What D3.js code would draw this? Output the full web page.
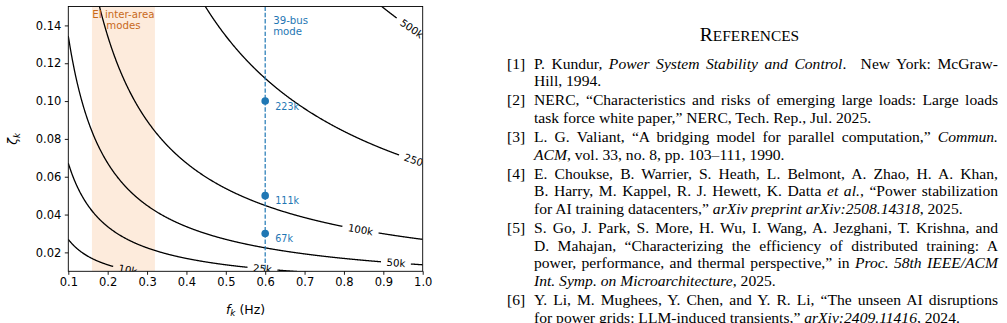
<!DOCTYPE html>
<html><head><meta charset="utf-8">
<script src="https://cdn.jsdelivr.net/npm/d3@7"></script>
<style>
html,body{margin:0;padding:0;background:#fff;}
body{width:1007px;height:323px;overflow:hidden;}
svg{display:block;}
</style>
</head><body>
<svg id="fig" width="1007" height="323"></svg>
<script>
// ---------- data ----------
const xTicks = [0.1,0.2,0.3,0.4,0.5,0.6,0.7,0.8,0.9,1.0];
const yTicks = [0.02,0.04,0.06,0.08,0.10,0.12,0.14];
const xDomain = [0.1, 1.0];
const yDomain = [0.01, 0.15];
const contourLevels = [10000, 25000, 50000, 100000, 250000, 500000];
const contourLabels = ["10k","25k","50k","100k","250k","500k"];
const contourLabelF = [0.251, 0.593, 0.932, 0.842, 0.984, 0.972];
const gainK = 3.72e6;            // level = gainK * zeta * f
const bandF = [0.16, 0.32];
const bandText = ["EI inter-area","modes"];
const modeF = 0.6;
const modeZeta = [0.10, 0.05, 0.03];
const modeLabels = ["223k","111k","67k"];
const modeText = ["39-bus","mode"];

const refTitle = ["R","EFERENCES"];
const refEntries = [
  {label:"[1]", lines:["P. Kundur, _Power System Stability and Control_.\u2002 New York: McGraw-","Hill, 1994."]},
  {label:"[2]", lines:["NERC, \u201cCharacteristics and risks of emerging large loads: Large loads","task force white paper,\u201d NERC, Tech. Rep., Jul. 2025."]},
  {label:"[3]", lines:["L. G. Valiant, \u201cA bridging model for parallel computation,\u201d _Commun._","_ACM_, vol. 33, no. 8, pp. 103\u2013111, 1990."]},
  {label:"[4]", lines:["E. Choukse, B. Warrier, S. Heath, L. Belmont, A. Zhao, H. A. Khan,","B. Harry, M. Kappel, R. J. Hewett, K. Datta _et al._, \u201cPower stabilization","for AI training datacenters,\u201d _arXiv preprint arXiv:2508.14318_, 2025."]},
  {label:"[5]", lines:["S. Go, J. Park, S. More, H. Wu, I. Wang, A. Jezghani, T. Krishna, and","D. Mahajan, \u201cCharacterizing the efficiency of distributed training: A","power, performance, and thermal perspective,\u201d in _Proc. 58th IEEE/ACM_","_Int. Symp. on Microarchitecture_, 2025."]},
  {label:"[6]", lines:["Y. Li, M. Mughees, Y. Chen, and Y. R. Li, \u201cThe unseen AI disruptions","for power grids: LLM-induced transients,\u201d _arXiv:2409.11416_, 2024."]}
];

// ---------- chart ----------
const svg = d3.select("#fig");
const SANS = "DejaVu Sans, sans-serif";
const BLUE = "#1f77b4";
const ORANGE = "#c8691a";

const x = d3.scaleLinear().domain(xDomain).range([68.3, 422.7]);
const y = d3.scaleLinear().domain(yDomain).range([271.3, 6.5]);
const pw = x.range()[1]-x.range()[0], ph = y.range()[0]-y.range()[1];

svg.append("defs").append("clipPath").attr("id","plotclip")
  .append("rect").attr("x",x.range()[0]).attr("y",y.range()[1]).attr("width",pw).attr("height",ph);

const plot = svg.append("g").attr("clip-path","url(#plotclip)");

// band
plot.append("rect").attr("x",x(bandF[0])).attr("width",x(bandF[1])-x(bandF[0]))
  .attr("y",y.range()[1]).attr("height",ph).attr("fill","#fdebdc");

// contours
const zetaOf = (lv,f)=> lv/(gainK*f);
const fSamples = d3.range(xDomain[0], xDomain[1]+0.0005, 0.001);
const labelFont = 10.2;
const measureG = svg.append("g").attr("opacity",0);
function textWidth(s, size){
  const t = measureG.append("text").attr("font-family",SANS).attr("font-size",size).text(s);
  const w = t.node().getComputedTextLength(); t.remove(); return w;
}
contourLevels.forEach((lv,i)=>{
  const fc = contourLabelF[i];
  const cx = x(fc), cy = y(zetaOf(lv,fc));
  const d = 0.002;
  const ax = x(fc+d)-x(fc-d), ay = y(zetaOf(lv,fc+d))-y(zetaOf(lv,fc-d));
  const ang = Math.atan2(ay, ax);
  const ux = Math.cos(ang), uy = Math.sin(ang);
  const hw = textWidth(contourLabels[i], labelFont)/2 + 5.5;
  const line = d3.line().x(p=>x(p[0])).y(p=>y(p[1]))
    .defined(p=>{
      const px = x(p[0])-cx, py = y(p[1])-cy;
      const along = px*ux+py*uy, across = -px*uy+py*ux;
      if (Math.abs(along) < hw && Math.abs(across) < 12) return false;
      return p[1] > yDomain[0]-0.003 && p[1] < yDomain[1]+0.003;
    });
  plot.append("path").datum(fSamples.map(f=>[f, zetaOf(lv,f)]))
    .attr("d", line).attr("fill","none").attr("stroke","#000").attr("stroke-width",1.3);
  plot.append("text").attr("transform",`translate(${cx},${cy}) rotate(${ang*180/Math.PI})`)
    .attr("text-anchor","middle").attr("dominant-baseline","central")
    .attr("font-family",SANS).attr("font-size",labelFont).attr("fill","#000")
    .text(contourLabels[i]);
});

// mode line + points
plot.append("line").attr("x1",x(modeF)).attr("x2",x(modeF)).attr("y1",y.range()[1]).attr("y2",y.range()[0])
  .attr("stroke",BLUE).attr("stroke-width",1.2).attr("stroke-dasharray","4.4,1.9");
plot.selectAll("circle.mode").data(modeZeta).join("circle").attr("class","mode")
  .attr("cx",x(modeF)).attr("cy",d=>y(d)).attr("r",3.8).attr("fill",BLUE);
plot.selectAll("text.mlab").data(modeZeta).join("text").attr("class","mlab")
  .attr("x",x(modeF)+10).attr("y",d=>y(d)+5.3).attr("dominant-baseline","central")
  .attr("font-family",SANS).attr("font-size",9.6).attr("fill",BLUE)
  .text((d,i)=>modeLabels[i]);

// annotations
plot.selectAll("text.band").data(bandText).join("text").attr("class","band")
  .attr("x",x((bandF[0]+bandF[1])/2)).attr("y",(d,i)=>14+i*11.7)
  .attr("text-anchor","middle").attr("dominant-baseline","central")
  .attr("font-family",SANS).attr("font-size",10.2).attr("fill",ORANGE).text(d=>d);
plot.selectAll("text.mtxt").data(modeText).join("text").attr("class","mtxt")
  .attr("x",x(modeF)+8).attr("y",(d,i)=>20+i*11.7)
  .attr("dominant-baseline","central")
  .attr("font-family",SANS).attr("font-size",10.2).attr("fill",BLUE).text(d=>d);

// axes
const gx = svg.append("g").attr("transform",`translate(0,${y.range()[0]})`)
  .call(d3.axisBottom(x).tickValues(xTicks).tickFormat(d3.format(".1f")).tickSize(3.5).tickPadding(3.5));
const gy = svg.append("g").attr("transform",`translate(${x.range()[0]},0)`)
  .call(d3.axisLeft(y).tickValues(yTicks).tickFormat(d3.format(".2f")).tickSize(3.5).tickPadding(3.5));
[gx,gy].forEach(g=>{
  g.select(".domain").remove();
  g.selectAll("line").attr("stroke","#000").attr("stroke-width",0.9);
  g.selectAll("text").attr("font-family",SANS).attr("font-size",11.5).attr("fill","#000");
});
svg.append("rect").attr("x",x.range()[0]).attr("y",y.range()[1]).attr("width",pw).attr("height",ph)
  .attr("fill","none").attr("stroke","#000").attr("stroke-width",0.9);

// axis labels
const xl = svg.append("text").attr("x",(x.range()[0]+x.range()[1])/2).attr("y",313.5)
  .attr("text-anchor","middle").attr("font-family",SANS).attr("font-size",12.5).attr("fill","#000");
xl.append("tspan").attr("font-style","italic").text("f");
xl.append("tspan").attr("font-style","italic").attr("font-size",8.8).attr("dy",2.5).text("k");
xl.append("tspan").attr("dy",-2.5).text(" (Hz)");
const yl = svg.append("text").attr("transform",`translate(17,${(y.range()[0]+y.range()[1])/2}) rotate(-90)`)
  .attr("text-anchor","middle").attr("font-family",SANS).attr("font-size",12.5).attr("fill","#000");
yl.append("tspan").attr("font-style","italic").text("\u03b6");
yl.append("tspan").attr("font-style","italic").attr("font-size",8.8).attr("dy",2.5).text("k");

// ---------- references ----------
const SERIF = "Liberation Serif, Times New Roman, serif";
const refG = svg.append("g").attr("font-family",SERIF).attr("fill","#000");
const colL = 534, colR = 998, labX = 507;
const title = refG.append("text").attr("x",(labX+colR)/2 - 3).attr("y",41).attr("text-anchor","middle");
title.append("tspan").attr("font-size",19.5).text(refTitle[0]);
title.append("tspan").attr("font-size",15.4).text(refTitle[1]);

let base = 68.5;
refEntries.forEach((e,ei)=>{
  if (ei>0) base += 19.3;
  refG.append("text").attr("x",labX).attr("y",base).attr("font-size",15.6).text(e.label);
  e.lines.forEach((ln,li)=>{
    if (li>0) base += 17.5;
    const t = refG.append("text").attr("x",colL).attr("y",base).attr("font-size",15.6);
    ln.split("_").forEach((seg,si)=>{
      if (!seg) return;
      t.append("tspan").attr("font-style", si%2 ? "italic":"normal").text(seg);
    });
    const isLast = li === e.lines.length-1;
    if (!isLast){
      const target = colR-colL;
      const L = t.node().getComputedTextLength();
      const n = (ln.match(/ /g)||[]).length;
      t.style("word-spacing", ((target-L)/n)+"px");
      const L2 = t.node().getBBox().width;
      if (Math.abs(L2-target) > 2){
        t.style("word-spacing", null);
        t.attr("textLength", target).attr("lengthAdjust","spacing");
      }
    }
  });
});
</script>
</body></html>
